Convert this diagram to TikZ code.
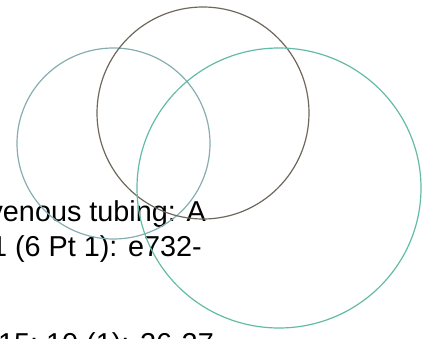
\documentclass[tikz,border=0pt]{standalone}
\usepackage{fontspec}
\setmainfont{Liberation Sans}
\definecolor{leftc}{HTML}{86AEB0}
\definecolor{topc}{HTML}{6E675C}
\definecolor{rightc}{HTML}{63BBA6}
\begin{document}
\begin{tikzpicture}[x=1pt,y=-1pt,
  ring/.style={line width=1.2pt},
  ref/.style={inner sep=0pt,anchor=base east,font=\fontsize{28.8}{34}\selectfont,text=black}]
\useasboundingbox (0,0) rectangle (425,339);
\clip (0,0) rectangle (425,339);
\node[ref] (t1) at (206,221.5) {venous tubing: A};
\node[ref] (t2) at (202,256.5) {1 (6 Pt 1): e732-};
\node[ref] (t3) at (214,353) {15; 10 (1): 26-27};
\draw[ring,leftc] (113.5,143.5) ellipse [x radius=96.5, y radius=95.5];
\draw[ring,topc] (203,113) circle [radius=106];
\draw[ring,rightc] (279,188) ellipse [x radius=142, y radius=140];
\end{tikzpicture}
\end{document}
